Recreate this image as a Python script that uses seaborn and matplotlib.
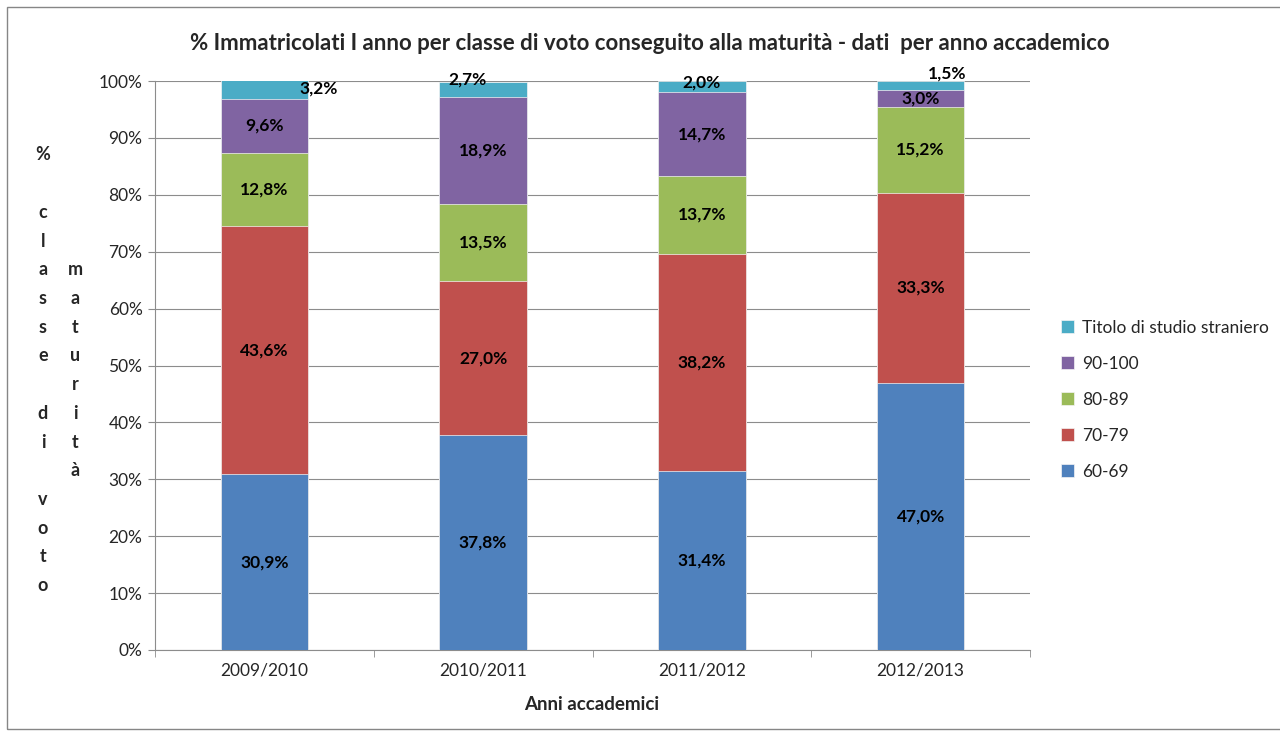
import numpy as np
import pandas as pd
import matplotlib
matplotlib.use('Agg')
import matplotlib.pyplot as plt
import seaborn as sns
from matplotlib.patches import Rectangle
from matplotlib.ticker import FixedLocator

# Data (% per anno accademico)
anni = ['2009/2010', '2010/2011', '2011/2012', '2012/2013']
classi = ['60-69', '70-79', '80-89', '90-100', 'Titolo di studio straniero']
v_60_69 = [30.9, 37.8, 31.4, 47.0]
v_70_79 = [43.6, 27.0, 38.2, 33.3]
v_80_89 = [12.8, 13.5, 13.7, 15.2]
v_90_100 = [9.6, 18.9, 14.7, 3.0]
v_straniero = [3.2, 2.7, 2.0, 1.5]

colori = ['#4F81BD', '#C0504D', '#9BBB59', '#8064A2', '#4BACC6']

df = pd.DataFrame({'anno': anni, '60-69': v_60_69, '70-79': v_70_79,
                   '80-89': v_80_89, '90-100': v_90_100,
                   'Titolo di studio straniero': v_straniero})

sns.set_style('white')
plt.rcParams['font.family'] = ['Lato', 'DejaVu Sans']

fig = plt.figure(figsize=(12.8, 7.33), dpi=100)
ax = fig.add_axes([155 / 1280, 1 - 650 / 733, 875 / 1280, 569 / 733])

# stacked bars: draw cumulative totals from the top series down
cum = df[classi].cumsum(axis=1)
for i in range(len(classi) - 1, -1, -1):
    sns.barplot(x=df['anno'], y=cum[classi[i]], color=colori[i], width=0.4,
                ax=ax, label=classi[i], saturation=1, zorder=3,
                edgecolor='#f4f4f4', linewidth=0.5)

# data labels
def fmt(v):
    return f"{v:.1f}".replace('.', ',') + '%'

for j in range(len(anni)):
    base = 0
    for i, c in enumerate(classi):
        v = df[c][j]
        x, y = j, base + v / 2
        if c == 'Titolo di studio straniero':
            x, y = [(j + 0.25, 98.6), (j - 0.07, 100.3), (j, 99.8), (j + 0.12, 101.4)][j]
        ax.text(x, y, fmt(v), ha='center', va='center', fontsize=12.5,
                fontweight='bold', color='black', zorder=5, clip_on=False)
        base += v

ax.set_xlim(-0.5, 3.5)
ax.set_ylim(0, 100)
ax.set_yticks(np.arange(0, 101, 10))
ax.set_yticklabels([f"{t}%" for t in range(0, 101, 10)], fontsize=12.5)
ax.yaxis.grid(True, color='#8c8c8c', linewidth=0.8, zorder=0)
ax.set_axisbelow(True)
ax.tick_params(axis='y', length=5, color='#8c8c8c', direction='out', pad=4, left=True)
ax.tick_params(axis='x', which='major', length=0, labelsize=12.5, pad=9)
ax.xaxis.set_minor_locator(FixedLocator([-0.5, 0.5, 1.5, 2.5, 3.5]))
ax.tick_params(axis='x', which='minor', length=5, color='#8c8c8c', direction='out', bottom=True)
for s in ['top', 'right']:
    ax.spines[s].set_visible(False)
for s in ['left', 'bottom']:
    ax.spines[s].set_color('#8c8c8c')
    ax.spines[s].set_linewidth(0.8)
ax.set_xlabel('')
ax.set_ylabel('')

# legend
h, l = ax.get_legend_handles_labels()
leg = ax.legend(h, l, loc='center left', bbox_to_anchor=(1.028, 0.44), frameon=False,
                fontsize=12.5, handlelength=0.75, handleheight=0.75, handletextpad=0.45,
                labelspacing=1.15, borderaxespad=0)

# title and axis titles
fig.text(650 / 1280, 1 - 44 / 733,
         '% Immatricolati I anno per classe di voto conseguito alla maturità - dati  per anno accademico',
         ha='center', va='center', fontsize=16, fontweight='bold')
fig.text(592 / 1280, 1 - 705 / 733, 'Anni accademici', ha='center', va='center',
         fontsize=13.5, fontweight='bold')

col1 = ['%', '', 'c', 'l', 'a', 's', 's', 'e', '', 'd', 'i', '', 'v', 'o', 't', 'o']
col2 = ['', '', '', '', 'm', 'a', 't', 'u', 'r', 'i', 't', 'à']
for k, ch in enumerate(col1):
    fig.text(43 / 1280, 1 - (155 + 28.7 * k) / 733, ch, ha='center', va='center',
             fontsize=13, fontweight='bold')
for k, ch in enumerate(col2):
    fig.text(75 / 1280, 1 - (155 + 28.7 * k) / 733, ch, ha='center', va='center',
             fontsize=13, fontweight='bold')

fig.patches.append(Rectangle((7 / 1280, 4 / 733), 1280 / 1280, 722 / 733,
                             transform=fig.transFigure, fill=False,
                             edgecolor='#868686', linewidth=1))

fig.savefig('out.png', dpi=100)
